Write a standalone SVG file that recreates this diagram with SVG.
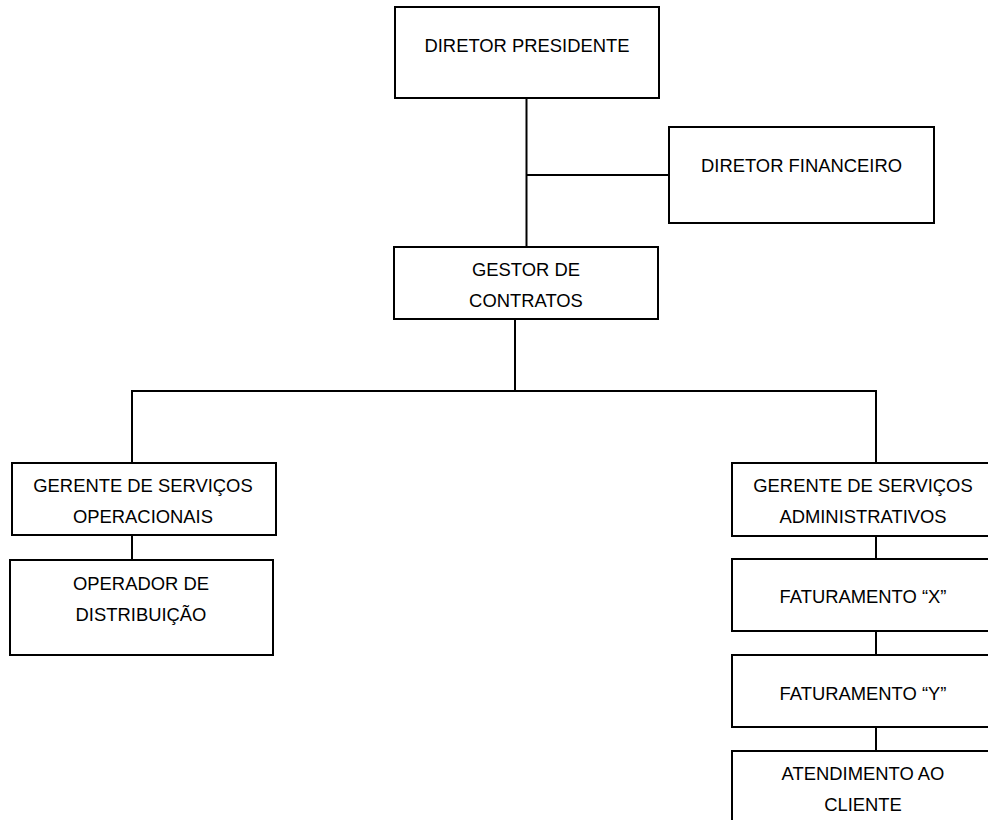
<svg xmlns="http://www.w3.org/2000/svg" width="988" height="820" viewBox="0 0 988 820">
  <style>
    .box { fill: #ffffff; stroke: #000000; stroke-width: 2; }
    .lbl { font-family: "Liberation Sans", Arial, sans-serif; font-size: 18.4px; fill: #000000; text-anchor: middle; }
    .conn line { stroke: #000000; stroke-width: 2; }
  </style>
  <rect width="988" height="820" fill="#ffffff"/>

  <!-- connectors -->
  <g id="connectors" class="conn">
    <line x1="526.5" y1="98" x2="526.5" y2="247"/>
    <line x1="526.5" y1="175" x2="669" y2="175"/>
    <line x1="515" y1="319" x2="515" y2="391"/>
    <line x1="131" y1="391" x2="877" y2="391"/>
    <line x1="132" y1="391" x2="132" y2="463"/>
    <line x1="876" y1="391" x2="876" y2="463"/>
    <line x1="132" y1="535" x2="132" y2="560"/>
    <line x1="876" y1="536" x2="876" y2="559"/>
    <line x1="876" y1="631" x2="876" y2="655"/>
    <line x1="876" y1="727" x2="876" y2="751"/>
  </g>

  <!-- nodes -->
  <g id="diretor-presidente">
    <rect class="box" x="395" y="7" width="264" height="91"/>
    <text class="lbl" x="527" y="52">DIRETOR PRESIDENTE</text>
  </g>
  <g id="diretor-financeiro">
    <rect class="box" x="669" y="127" width="265" height="96"/>
    <text class="lbl" x="801.5" y="172">DIRETOR FINANCEIRO</text>
  </g>
  <g id="gestor-contratos">
    <rect class="box" x="394" y="247" width="264" height="72"/>
    <text class="lbl" x="526" y="276">GESTOR DE</text>
    <text class="lbl" x="526" y="307">CONTRATOS</text>
  </g>
  <g id="gerente-operacionais">
    <rect class="box" x="12" y="463" width="264" height="72"/>
    <text class="lbl" x="143" y="492">GERENTE DE SERVIÇOS</text>
    <text class="lbl" x="143" y="523">OPERACIONAIS</text>
  </g>
  <g id="operador-distribuicao">
    <rect class="box" x="10" y="560" width="263" height="95"/>
    <text class="lbl" x="141" y="590">OPERADOR DE</text>
    <text class="lbl" x="141" y="621">DISTRIBUIÇÃO</text>
  </g>
  <g id="gerente-administrativos">
    <rect class="box" x="732" y="463" width="264" height="73"/>
    <text class="lbl" x="863" y="492">GERENTE DE SERVIÇOS</text>
    <text class="lbl" x="863" y="523">ADMINISTRATIVOS</text>
  </g>
  <g id="faturamento-x">
    <rect class="box" x="732" y="559" width="264" height="72"/>
    <text class="lbl" x="863" y="603">FATURAMENTO “X”</text>
  </g>
  <g id="faturamento-y">
    <rect class="box" x="732" y="655" width="264" height="72"/>
    <text class="lbl" x="863" y="700">FATURAMENTO “Y”</text>
  </g>
  <g id="atendimento-cliente">
    <rect class="box" x="732" y="751" width="264" height="95"/>
    <text class="lbl" x="863" y="780">ATENDIMENTO AO</text>
    <text class="lbl" x="863" y="811">CLIENTE</text>
  </g>
</svg>
